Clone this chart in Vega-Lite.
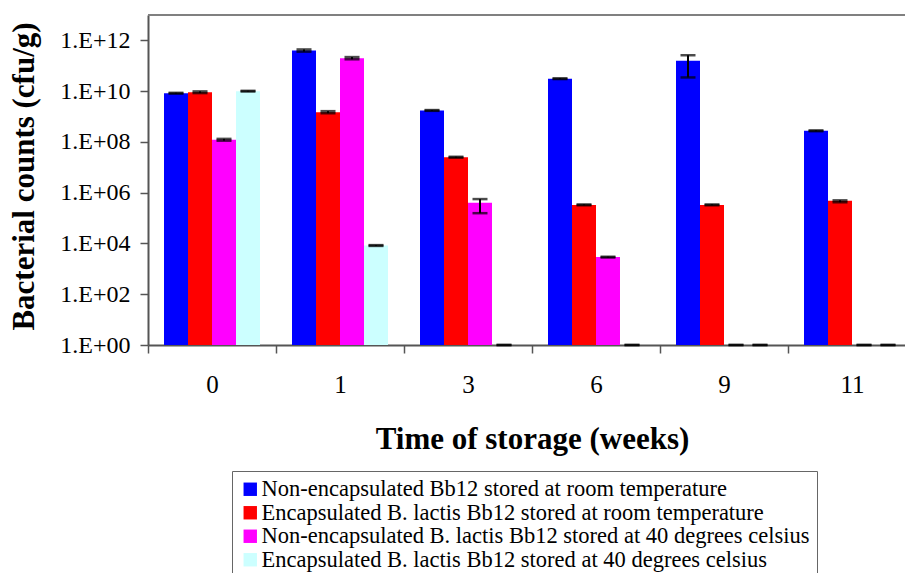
{
  "$schema": "https://vega.github.io/schema/vega-lite/v6.json",
  "autosize": {"type": "none"},
  "padding": {"left": 148, "top": 15, "right": 0, "bottom": 228},
  "width": 757,
  "height": 330,
  "background": "white",
  "config": {
    "view": {"stroke": null},
    "font": "Liberation Serif",
    "axis": {"labelFont": "Liberation Serif, DejaVu Serif, serif", "titleFont": "Liberation Serif, DejaVu Serif, serif", "labelColor": "black", "titleColor": "black", "grid": false},
    "legend": {"labelFont": "Liberation Serif, DejaVu Serif, serif", "labelColor": "black"}
  },
  "data": {
    "values": [
      {"week": "0", "series": "Non-encapsulated Bb12 stored at room temperature", "value": 8.3e9, "lo": 8.0e9, "hi": 8.6e9},
      {"week": "0", "series": "Encapsulated B. lactis Bb12 stored at room temperature", "value": 9.1e9, "lo": 8.4e9, "hi": 9.8e9},
      {"week": "0", "series": "Non-encapsulated B. lactis Bb12 stored at 40 degrees celsius", "value": 1.22e8, "lo": 1.12e8, "hi": 1.32e8},
      {"week": "0", "series": "Encapsulated B. lactis Bb12 stored at 40 degrees celsius", "value": 1.0e10, "lo": 0.97e10, "hi": 1.03e10},
      {"week": "1", "series": "Non-encapsulated Bb12 stored at room temperature", "value": 4.0e11, "lo": 3.6e11, "hi": 4.4e11},
      {"week": "1", "series": "Encapsulated B. lactis Bb12 stored at room temperature", "value": 1.49e9, "lo": 1.35e9, "hi": 1.63e9},
      {"week": "1", "series": "Non-encapsulated B. lactis Bb12 stored at 40 degrees celsius", "value": 2.0e11, "lo": 1.8e11, "hi": 2.2e11},
      {"week": "1", "series": "Encapsulated B. lactis Bb12 stored at 40 degrees celsius", "value": 8.3e3, "lo": 8.0e3, "hi": 8.6e3},
      {"week": "3", "series": "Non-encapsulated Bb12 stored at room temperature", "value": 1.74e9, "lo": 1.68e9, "hi": 1.8e9},
      {"week": "3", "series": "Encapsulated B. lactis Bb12 stored at room temperature", "value": 2.5e7, "lo": 2.4e7, "hi": 2.6e7},
      {"week": "3", "series": "Non-encapsulated B. lactis Bb12 stored at 40 degrees celsius", "value": 4.0e5, "lo": 1.56e5, "hi": 5.6e5},
      {"week": "3", "series": "Encapsulated B. lactis Bb12 stored at 40 degrees celsius", "value": 1, "lo": 1, "hi": 1},
      {"week": "6", "series": "Non-encapsulated Bb12 stored at room temperature", "value": 3.1e10, "lo": 3.0e10, "hi": 3.2e10},
      {"week": "6", "series": "Encapsulated B. lactis Bb12 stored at room temperature", "value": 3.3e5, "lo": 3.2e5, "hi": 3.45e5},
      {"week": "6", "series": "Non-encapsulated B. lactis Bb12 stored at 40 degrees celsius", "value": 2.9e3, "lo": 2.8e3, "hi": 3.0e3},
      {"week": "6", "series": "Encapsulated B. lactis Bb12 stored at 40 degrees celsius", "value": 1, "lo": 1, "hi": 1},
      {"week": "9", "series": "Non-encapsulated Bb12 stored at room temperature", "value": 1.58e11, "lo": 3.47e10, "hi": 2.6e11},
      {"week": "9", "series": "Encapsulated B. lactis Bb12 stored at room temperature", "value": 3.3e5, "lo": 3.2e5, "hi": 3.45e5},
      {"week": "9", "series": "Non-encapsulated B. lactis Bb12 stored at 40 degrees celsius", "value": 1, "lo": 1, "hi": 1},
      {"week": "9", "series": "Encapsulated B. lactis Bb12 stored at 40 degrees celsius", "value": 1, "lo": 1, "hi": 1},
      {"week": "11", "series": "Non-encapsulated Bb12 stored at room temperature", "value": 2.75e8, "lo": 2.65e8, "hi": 2.85e8},
      {"week": "11", "series": "Encapsulated B. lactis Bb12 stored at room temperature", "value": 4.8e5, "lo": 4.2e5, "hi": 5.0e5},
      {"week": "11", "series": "Non-encapsulated B. lactis Bb12 stored at 40 degrees celsius", "value": 1, "lo": 1, "hi": 1},
      {"week": "11", "series": "Encapsulated B. lactis Bb12 stored at 40 degrees celsius", "value": 1, "lo": 1, "hi": 1}
    ]
  },
  "encoding": {
    "x": {
      "field": "week", "type": "nominal",
      "sort": ["0", "1", "3", "6", "9", "11"],
      "scale": {"range": [0, 768], "paddingInner": 0, "paddingOuter": 0},
      "axis": {
        "title": "Time of storage (weeks)",
        "labelAngle": 0,
        "labelFontSize": 25,
        "labelPadding": 19,
        "tickBand": "extent",
        "tickSize": 8,
        "tickColor": "#555",
        "tickWidth": 1.5,
        "domainColor": "#555",
        "domainWidth": 2,
        "titleFontSize": 31,
        "titleFontWeight": "bold",
        "titleX": 384,
        "titleY": 103,
        "titleAlign": "center",
        "titleBaseline": "alphabetic"
      }
    },
    "xOffset": {
      "field": "series", "type": "nominal",
      "sort": [
        "Non-encapsulated Bb12 stored at room temperature",
        "Encapsulated B. lactis Bb12 stored at room temperature",
        "Non-encapsulated B. lactis Bb12 stored at 40 degrees celsius",
        "Encapsulated B. lactis Bb12 stored at 40 degrees celsius"
      ],
      "scale": {"paddingInner": 0, "paddingOuter": 0.6667}
    }
  },
  "layer": [
    {
      "mark": {"type": "rule", "color": "#808080", "strokeWidth": 2},
      "encoding": {"x": null, "xOffset": null, "y": {"datum": 1e13, "type": "quantitative"}}
    },
    {
      "mark": {"type": "bar"},
      "encoding": {
        "y": {
          "field": "value", "type": "quantitative",
          "scale": {"type": "log", "domain": [1, 1e13], "nice": false, "zero": false},
          "axis": {
            "title": "Bacterial counts (cfu/g)",
            "values": [1, 100, 10000, 1000000, 100000000, 10000000000, 1000000000000],
            "labelExpr": "'1.E+' + (round(log(datum.value)/LN10) < 10 ? '0' : '') + round(log(datum.value)/LN10)",
            "labelFontSize": 24,
            "labelPadding": 10,
            "tickSize": 8,
            "tickColor": "#555",
            "tickWidth": 1.5,
            "domainColor": "#555",
            "domainWidth": 2,
            "titleFontSize": 31,
            "titleFontWeight": "bold",
            "titleX": -115,
            "titleY": 161,
            "titleAngle": -90,
            "titleAlign": "center",
            "titleBaseline": "alphabetic"
          }
        },
        "y2": {"datum": 1},
        "color": {
          "field": "series", "type": "nominal",
          "scale": {
            "domain": [
              "Non-encapsulated Bb12 stored at room temperature",
              "Encapsulated B. lactis Bb12 stored at room temperature",
              "Non-encapsulated B. lactis Bb12 stored at 40 degrees celsius",
              "Encapsulated B. lactis Bb12 stored at 40 degrees celsius"
            ],
            "range": ["#0000FF", "#FF0000", "#FF00FF", "#CCFFFF"]
          },
          "legend": {
            "title": null,
            "orient": "none",
            "legendX": 84,
            "legendY": 456,
            "direction": "vertical",
            "symbolType": "square",
            "symbolSize": 180,
            "symbolStrokeWidth": 0,
            "labelFontSize": 22.5,
            "labelOffset": 0,
            "labelLimit": 700,
            "rowPadding": 0.5,
            "padding": 7,
            "strokeColor": "#666"
          }
        }
      }
    },
    {
      "mark": {"type": "rule", "color": "black", "strokeWidth": 2},
      "encoding": {
        "y": {"field": "lo", "type": "quantitative"},
        "y2": {"field": "hi"}
      }
    },
    {
      "mark": {"type": "tick", "color": "black", "size": 15, "thickness": 2.5},
      "encoding": {"y": {"field": "lo", "type": "quantitative"}}
    },
    {
      "mark": {"type": "tick", "color": "black", "size": 15, "thickness": 2.5},
      "encoding": {"y": {"field": "hi", "type": "quantitative"}}
    }
  ]
}
